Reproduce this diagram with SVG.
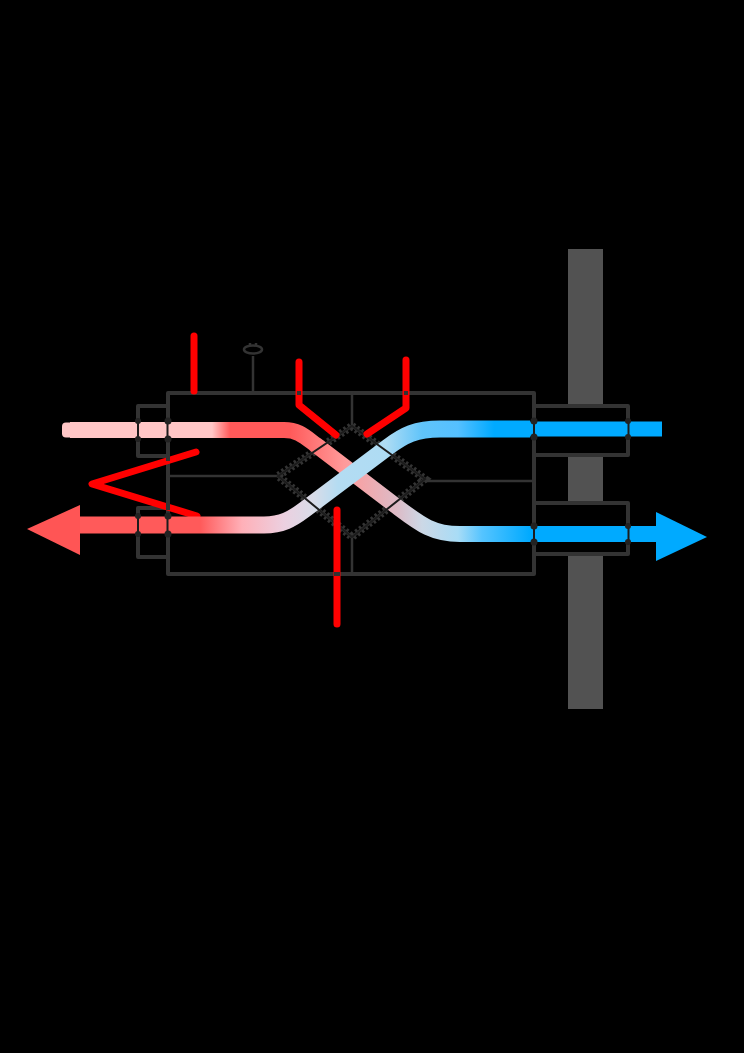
<svg xmlns="http://www.w3.org/2000/svg" width="744" height="1053" viewBox="0 0 744 1053">
<defs>
<linearGradient id="gradA" gradientUnits="userSpaceOnUse" x1="62" y1="0" x2="662" y2="0">
<stop offset="0.25" stop-color="#ffc6c6"/><stop offset="0.28" stop-color="#ff5a5a"/><stop offset="0.38" stop-color="#ff5a5a"/><stop offset="0.47" stop-color="#ff9a9a"/><stop offset="0.56" stop-color="#dcbcc8"/><stop offset="0.6" stop-color="#ccd8e6"/><stop offset="0.66" stop-color="#a8dcf6"/><stop offset="0.7" stop-color="#55c4ff"/><stop offset="0.78" stop-color="#00aaff"/>
</linearGradient>
<linearGradient id="gradB" gradientUnits="userSpaceOnUse" x1="62" y1="0" x2="662" y2="0">
<stop offset="0.23" stop-color="#ff5a5a"/><stop offset="0.3" stop-color="#ffb0b8"/><stop offset="0.37" stop-color="#ecd0e0"/><stop offset="0.42" stop-color="#d8dce8"/><stop offset="0.46" stop-color="#b4dcf2"/><stop offset="0.54" stop-color="#aedcf4"/><stop offset="0.6" stop-color="#60c4fa"/><stop offset="0.66" stop-color="#55c0ff"/><stop offset="0.72" stop-color="#00aaff"/>
</linearGradient>
<style>
.frame{fill:none;stroke:#333;stroke-width:4;stroke-linejoin:round}
.thin{fill:none;stroke:#333;stroke-width:2.5}
.pipe{fill:none;stroke-linejoin:round}
.red{fill:none;stroke:#f00;stroke-width:7;stroke-linecap:round;stroke-linejoin:round}
.cut{fill:none;stroke:#1c1c1c;stroke-width:2}
.notch{fill:none;stroke:#333;stroke-width:4}
.knot{fill:#222}
</style>
</defs>
<rect id="background" x="0" y="0" width="744" height="1053" fill="#000"/>
<g id="wall">
<rect x="568" y="249" width="35" height="460" fill="#525252"/>
<rect x="535" y="405" width="92" height="51" fill="#000"/>
<rect x="535" y="503" width="92" height="52" fill="#000"/>
</g>
<g id="housing">
<path class="frame" d="M168 393H534V574H168Z"/>
</g>
<g id="duct-left-top"><path class="frame" d="M168 406H138V456H168"/></g>
<g id="duct-left-bottom"><path class="frame" d="M168 508H138V557H168"/></g>
<g id="duct-right-top"><path class="frame" d="M534 406H628V455H534"/></g>
<g id="duct-right-bottom"><path class="frame" d="M534 503H628V554H534"/></g>
<g id="core-outline">
<path d="M352 426L425 479L352 537L278 476Z" fill="none" stroke="#333" stroke-width="3"/>
<path d="M352 426L425 479L352 537L278 476Z" fill="none" stroke="#333" stroke-width="8" stroke-dasharray="2.500 2.500"/>
</g>
<g id="filter-symbol">
<ellipse cx="253" cy="349.500" rx="9" ry="4" fill="none" stroke="#333" stroke-width="2.500"/>
<path class="thin" d="M250 343V346M256 343V346"/>
</g>
<g id="connectors">
<path class="thin" d="M253 392V356M352 392V426M352 537V574M168 476H278M425 481H534"/>
<path class="red" d="M196 452L92 484L197 516"/>
<path class="pipe" stroke="url(#gradA)" stroke-width="16" d="M70 430H284C298 430 304 436 316 445L396 506C420 524 432 534 460 534H530"/>
<rect x="62" y="422.500" width="20" height="15" rx="4" fill="#ffc6c6"/>
<path class="pipe" stroke="url(#gradB)" stroke-width="17" d="M70 525H264C282 525 292 519 304 510L388 447C404 435 416 429 440 429H530"/>
<path class="pipe" stroke="#00aaff" stroke-width="15" d="M530 429H662"/>
<path class="pipe" stroke="#00aaff" stroke-width="16" d="M530 534H660"/>
<path class="cut" d="M138 422V438M167.500 422V438M138 517V533M167.500 517V533M534 421V437M534 526V542M628.500 421V437M628.500 526V542"/>
<path class="cut" d="M352 426L425 479L352 537L278 476Z"/>
<g class="knot">
<circle cx="138" cy="421" r="3"/><circle cx="138" cy="439" r="3"/><circle cx="168" cy="421" r="3.500"/><circle cx="168" cy="439" r="3.500"/>
<circle cx="138" cy="516" r="3"/><circle cx="138" cy="534" r="3"/><circle cx="168" cy="516" r="3.500"/><circle cx="168" cy="534" r="3.500"/>
<circle cx="534" cy="421" r="3.500"/><circle cx="534" cy="437" r="3.500"/><circle cx="534" cy="526" r="3.500"/><circle cx="534" cy="542" r="3.500"/>
<circle cx="628" cy="421" r="3"/><circle cx="628" cy="437" r="3"/><circle cx="628" cy="526" r="3"/><circle cx="628" cy="542" r="3"/>
</g>
<path class="red" d="M194 336V391"/>
<path class="red" d="M299 362V405L336 435"/>
<path class="red" d="M406 360V408L367 434"/>
<path class="red" d="M337 510V624"/>
<path class="notch" d="M299 391V395M406 391V395M334 574H340M168 453V461M168 502V510"/>
</g>
<g id="arrow-exhaust"><path d="M27 529L80 505V555Z" fill="#ff5555"/></g>
<g id="arrow-supply"><path d="M707 537L656 512V561Z" fill="#00aaff"/></g>
</svg>
